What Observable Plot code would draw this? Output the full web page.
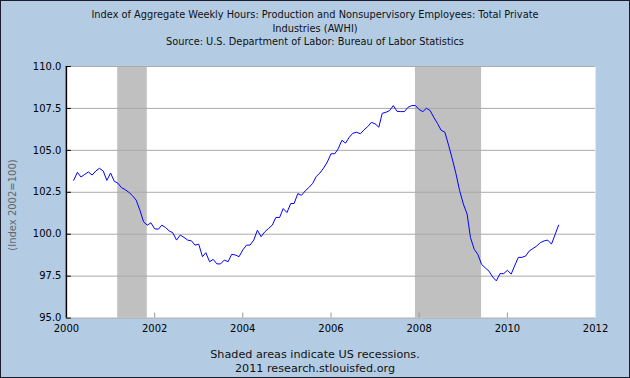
<!DOCTYPE html>
<html><head><meta charset="utf-8">
<script src="https://cdn.jsdelivr.net/npm/d3@7"></script>
<script src="https://cdn.jsdelivr.net/npm/@observablehq/plot@0.6"></script>
<style>
html,body{margin:0;padding:0;background:#fff;}
#chart{position:relative;width:630px;height:378px;box-sizing:border-box;border:1px solid #1c1c2c;background:#b3cce4;font-family:"DejaVu Sans",Verdana,sans-serif;overflow:hidden;}
#title{position:absolute;left:0;top:7px;width:628px;text-align:center;font-size:9.8px;line-height:13.5px;color:#111;}
#plot{position:absolute;left:-1px;top:55px;}
#ylab{position:absolute;left:-40px;top:198px;width:104px;text-align:center;font-size:10px;line-height:12px;color:#666;transform:rotate(-90deg);}
#foot{position:absolute;left:0;top:347px;width:628px;text-align:center;font-size:11.2px;line-height:14px;color:#111;}
</style>
</head><body>
<div id="chart">
  <div id="title">Index of Aggregate Weekly Hours: Production and Nonsupervisory Employees: Total Private<br>Industries (AWHI)<br>Source: U.S. Department of Labor: Bureau of Labor Statistics</div>
  <div id="plot"></div>
  <div id="ylab">(Index 2002=100)</div>
  <div id="foot">Shaded areas indicate US recessions.<br>2011 research.stlouisfed.org</div>
</div>
<script>
// Monthly series, first month March 2000, last month March 2011
const firstMonth = "2000-03-01";
const lastMonth = "2011-03-01";
const values = [
  103.21,103.69,103.41,103.57,103.71,103.53,103.77,103.93,103.77,103.21,
  103.65,103.15,103.05,102.78,102.66,102.50,102.30,102.03,101.43,100.74,
  100.54,100.68,100.32,100.30,100.54,100.40,100.20,100.08,99.65,99.95,
  99.81,99.65,99.61,99.35,99.41,98.66,98.90,98.36,98.50,98.23,
  98.23,98.46,98.36,98.80,98.76,98.66,99.06,99.35,99.35,99.65,
  100.24,99.85,100.14,100.34,100.54,101.00,101.00,101.53,101.29,101.83,
  101.83,102.42,102.32,102.58,102.78,103.02,103.45,103.65,103.95,104.30,
  104.80,104.80,105.09,105.60,105.43,105.78,106.02,106.08,105.99,106.22,
  106.42,106.67,106.58,106.38,107.21,107.27,107.37,107.67,107.33,107.31,
  107.31,107.57,107.67,107.67,107.43,107.31,107.51,107.37,106.97,106.60,
  106.20,106.08,105.30,104.50,103.60,102.60,101.80,101.20,99.80,99.10,
  98.80,98.20,98.00,97.80,97.45,97.22,97.65,97.65,97.85,97.62,
  98.10,98.62,98.62,98.70,99.00,99.15,99.30,99.50,99.60,99.65,
  99.41,100.00,100.54
];
const recessionStart = ["2001-03-01", "2007-12-01"];
const recessionEnd = ["2001-11-01", "2009-06-01"];
const yTicks = [95, 97.5, 100, 102.5, 105, 107.5, 110];
const xTickYears = [2000, 2002, 2004, 2006, 2008, 2010, 2012];
const xInnerTickYears = [2002, 2004, 2006, 2008, 2010];

const months = d3.utcMonth.range(new Date(firstMonth), d3.utcMonth.offset(new Date(lastMonth), 1));
const series = values.map((v, i) => ({date: months[i], value: v}));
const recessions = recessionStart.map((s, i) => ({start: new Date(s), end: new Date(recessionEnd[i])}));
const yearDate = y => new Date(Date.UTC(y, 0, 1));
const xTicks = xTickYears.map(yearDate);
const xInner = xInnerTickYears.map(yearDate);

const chart = Plot.plot({
  width: 630,
  height: 284,
  marginLeft: 66,
  marginRight: 34,
  marginTop: 10,
  marginBottom: 22,
  style: {background: "transparent", fontFamily: "DejaVu Sans, Verdana, sans-serif", fontSize: "10px"},
  x: {type: "utc", domain: [xTicks[0], xTicks[xTicks.length - 1]]},
  y: {domain: [95, 110]},
  marks: [
    Plot.frame({fill: "white", stroke: null}),
    Plot.rect(recessions, {x1: "start", x2: "end", fill: "#c0c0c0"}),
    Plot.gridY(yTicks, {stroke: "#aaaaaa", strokeOpacity: 1}),
    Plot.tickX(xInner, {x: d => d, stroke: "#999999", insetTop: 247}),
    Plot.line(series, {x: "date", y: "value", stroke: "#0000ff", strokeWidth: 1}),
    Plot.ruleX([xTicks[0]], {stroke: "#000", strokeWidth: 1.5}),
    Plot.tickY(yTicks, {y: d => d, stroke: "#000", insetRight: 525}),
    Plot.axisY(yTicks, {tickSize: 0, tickPadding: 5, tickFormat: d => d.toFixed(1), fill: "#000", label: null}),
    Plot.axisX(xTicks, {tickSize: 0, tickPadding: 7, tickFormat: d3.utcFormat("%Y"), fill: "#000", label: null})
  ]
});
document.getElementById("plot").appendChild(chart);
</script>
</body></html>
